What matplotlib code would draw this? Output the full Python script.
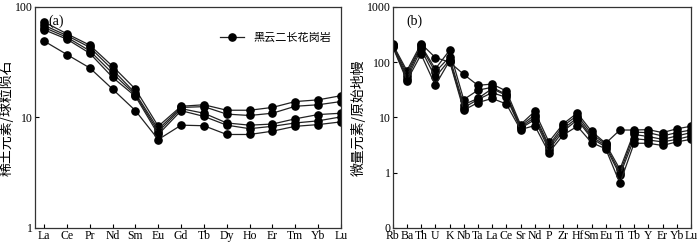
import numpy as np
import matplotlib
matplotlib.use('Agg')
import matplotlib.pyplot as plt
from matplotlib.ticker import FixedLocator, NullLocator

plt.rcParams['font.family'] = ['Liberation Serif', 'Noto Sans CJK SC']

# REE, chondrite normalised
ree = ['La', 'Ce', 'Pr', 'Nd', 'Sm', 'Eu', 'Gd', 'Tb', 'Dy', 'Ho', 'Er', 'Tm', 'Yb', 'Lu']
ree_1 = [73, 57, 45, 29, 18, 8.3, 12.6, 13.0, 11.6, 11.6, 12.3, 13.9, 14.4, 15.7]
ree_2 = [68, 55, 43, 27, 16.5, 7.8, 12.3, 12.5, 10.7, 10.4, 10.9, 12.6, 13.0, 13.9]
ree_3 = [65, 53, 40, 25, 16, 7.4, 12.0, 10.9, 8.9, 8.5, 8.7, 9.7, 10.6, 10.9]
ree_4 = [62, 51, 38, 23, 15.5, 7.0, 11.5, 10.2, 8.5, 7.9, 8.3, 8.9, 9.3, 10.1]
ree_5 = [49, 37, 28, 18, 11.5, 6.3, 8.5, 8.4, 7.0, 7.0, 7.5, 8.3, 8.6, 9.1]

# trace elements, primitive mantle normalised
trace = ['Rb', 'Ba', 'Th', 'U', 'K', 'Nb', 'Ta', 'La', 'Ce', 'Sr', 'Nd', 'P',
         'Zr', 'Hf', 'Sm', 'Eu', 'Ti', 'Tb', 'Y', 'Er', 'Yb', 'Lu']
tr_1 = [210, 70, 215, 121, 100, 60, 38, 40, 30, 7.4, 12.8, 3.6, 7.6, 12.0, 5.6, 3.4, 5.9, 5.9, 6.0, 5.3, 6.2, 6.9]
tr_2 = [205, 63, 200, 75, 163, 21, 31, 35, 26, 7.0, 11.1, 3.1, 7.0, 10.8, 5.0, 3.3, 1.15, 5.4, 5.3, 4.6, 5.3, 5.9]
tr_3 = [200, 56, 190, 66, 124, 17, 22, 33, 25, 6.6, 10.0, 2.9, 6.2, 9.8, 4.5, 3.1, 1.0, 4.9, 4.5, 4.0, 4.6, 5.3]
tr_4 = [195, 50, 170, 53, 110, 15, 21, 28, 23, 6.3, 9.1, 2.6, 5.6, 9.0, 4.2, 2.9, 0.9, 4.1, 3.9, 3.6, 4.0, 4.6]
tr_5 = [190, 46, 138, 38, 105, 13.5, 18.5, 22, 17.5, 6.0, 7.1, 2.3, 4.8, 6.9, 3.5, 2.7, 0.64, 3.4, 3.4, 3.1, 3.6, 4.0]

legend_label = '黑云二长花岗岩'
cjk = ['Noto Sans CJK SC', 'DejaVu Sans']

fig = plt.figure(figsize=(7, 2.44), dpi=100)
ax1 = fig.add_axes([0.050, 0.066, 0.437, 0.906])
ax2 = fig.add_axes([0.561, 0.066, 0.426, 0.906])

style = dict(color='#222222', lw=0.9, marker='o', ms=5.2,
             mfc='black', mec='black')

x1 = np.arange(len(ree))
for i, s in enumerate([ree_1, ree_2, ree_3, ree_4, ree_5]):
    ax1.plot(x1, s, label=legend_label if i == 0 else None, **style)
ax1.set_yscale('log')
ax1.set_ylim(1, 100)
ax1.set_xlim(-0.4, 13)
ax1.set_xticks(x1)
ax1.set_xticklabels(ree)
ax1.yaxis.set_major_locator(FixedLocator([1, 10, 100]))
ax1.yaxis.set_minor_locator(NullLocator())
ax1.set_yticklabels(['1', '10', '100'])
ax1.set_ylabel('稀土元素/球粒陨石', family=cjk, fontsize=10, labelpad=1)
ax1.text(0.045, 0.92, '(a)', transform=ax1.transAxes, fontsize=10)
leg = ax1.legend(loc='upper right', frameon=False, prop={'family': cjk, 'size': 8},
                 bbox_to_anchor=(1.0, 0.93), handlelength=2.2)

x2 = np.arange(len(trace))
for s in [tr_1, tr_2, tr_3, tr_4, tr_5]:
    ax2.plot(x2, s, **style)
ax2.set_yscale('log')
ax2.set_ylim(0.1, 1000)
ax2.set_xlim(0, 21)
ax2.set_xticks(x2)
ax2.set_xticklabels(trace)
ax2.yaxis.set_major_locator(FixedLocator([0.1, 1, 10, 100, 1000]))
ax2.yaxis.set_minor_locator(NullLocator())
ax2.set_yticklabels(['0', '1', '10', '100', '1000'])
ax2.set_ylabel('微量元素/原始地幔', family=cjk, fontsize=10, labelpad=1)
ax2.text(0.045, 0.92, '(b)', transform=ax2.transAxes, fontsize=10)

for ax in (ax1, ax2):
    ax.tick_params(direction='in', length=3, width=0.8, labelsize=8.5, pad=1.5)
    for sp in ax.spines.values():
        sp.set_linewidth(0.9)
        sp.set_color('#333333')

fig.savefig('out.png', dpi=100)
